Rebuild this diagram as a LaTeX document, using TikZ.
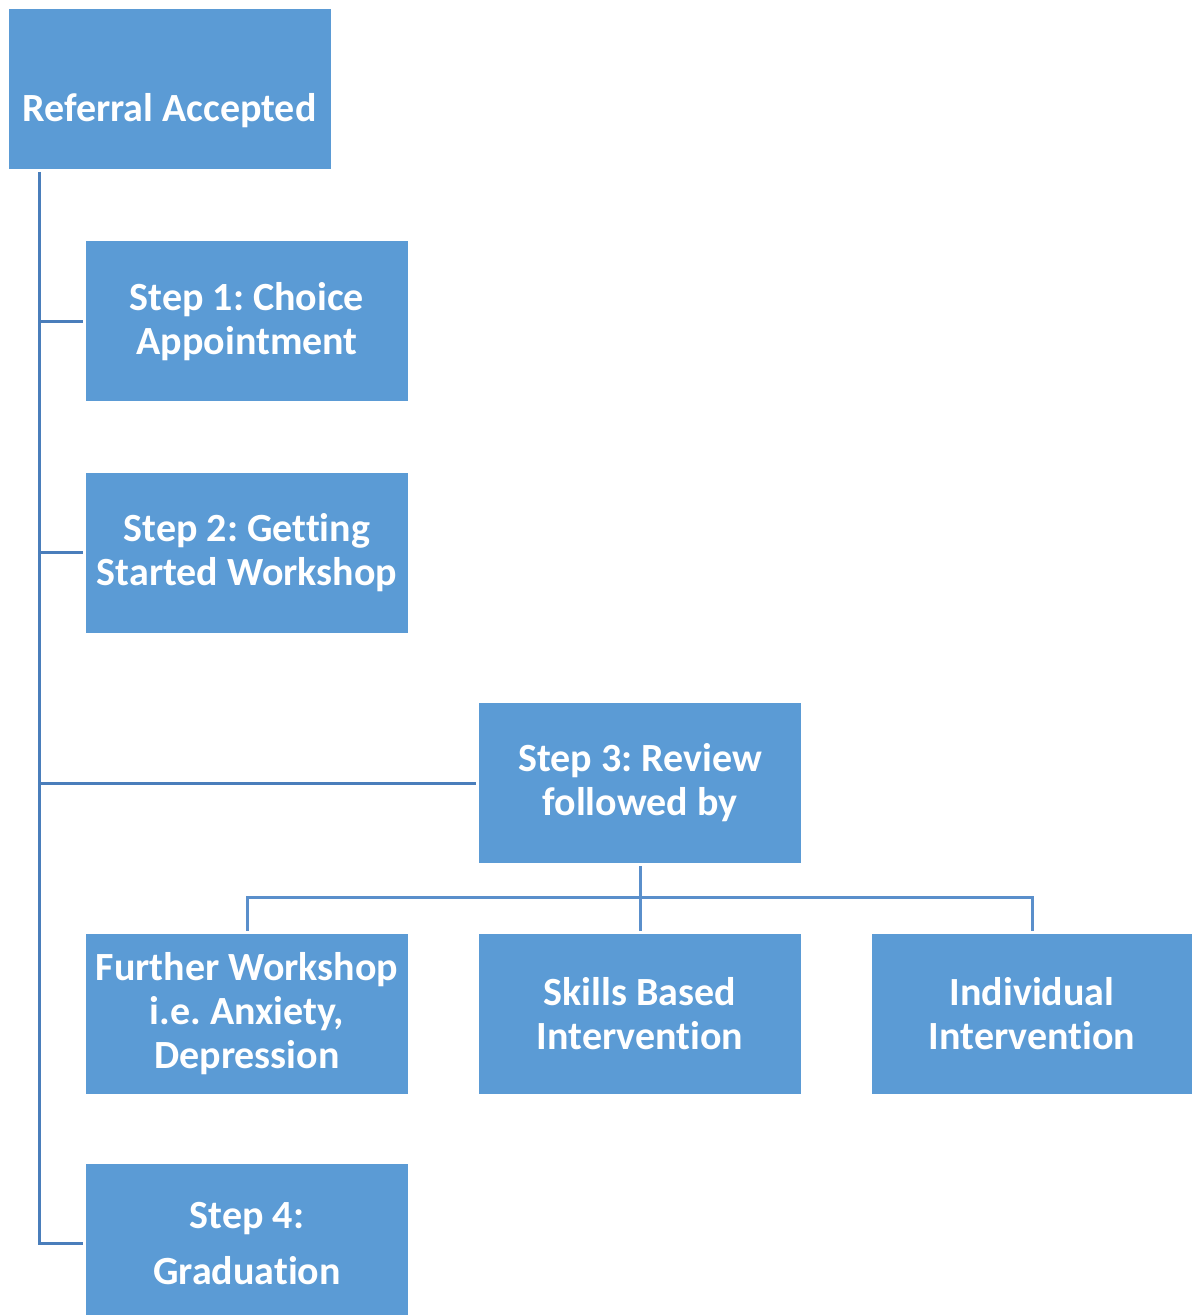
\documentclass[tikz,border=0pt]{standalone}
\usepackage{fontspec}
\setmainfont{Carlito}[Ligatures=NoCommon]
\usetikzlibrary{calc}
\definecolor{boxblue}{HTML}{5B9BD5}
\definecolor{trunkblue}{HTML}{4A7EBB}
\definecolor{treeblue}{HTML}{5A8FCB}
\tikzset{
  box/.style={draw=none, fill=boxblue, text=white, inner sep=0pt, outer sep=0pt,
    minimum width=161pt, minimum height=80pt, align=center,
    font=\fontsize{20pt}{22pt}\selectfont\bfseries\frenchspacing},
  label/.style={text=white, inner sep=0pt, font=\fontsize{20pt}{22pt}\selectfont\bfseries},
  trunk/.style={draw=trunkblue, line width=1.5pt},
  tree/.style={draw=treeblue, line width=1.5pt}
}
\begin{document}
\begin{tikzpicture}[x=0.5pt, y=-0.5pt]
\useasboundingbox (0,0) rectangle (1192,1315);
\clip (0,0) rectangle (1192,1315);
\node[box] (ref) at (169.5,89) {};
\node[label] (reftxt) at (169.5,111) {Referral Accepted};
\node[box] (s1) at (247,321.5) {Step 1: Choice\\Appointment};
\node[box] (s2) at (247,552.5) {Step 2: Getting\\Started Workshop};
\node[box] (s3) at (640,783) {Step 3: Review\\followed by};
\node[box] (fw) at (247,1013.5) {Further Workshop\\i.e. Anxiety,\\Depression};
\node[box] (sk) at (640,1013.5) {Skills Based\\Intervention};
\node[box, minimum width=160pt] (ind) at (1032,1013.5) {Individual\\Intervention};
\node[box, font=\fontsize{20pt}{28pt}\selectfont\bfseries] (s4) at (247,1244) {Step 4:\\Graduation};
% trunk
\coordinate (ttop) at (39,172);
\coordinate (tbot) at (39,1243);
\draw[trunk] (ttop) -- (tbot) -- ($(s4.west |- tbot)+(-3,0)$);
\draw[trunk] (ttop |- s1.west) -- ($(s1.west)+(-3,0)$);
\draw[trunk] (ttop |- s2.west) -- ($(s2.west)+(-3,0)$);
\draw[trunk] (ttop |- s3.west) -- ($(s3.west)+(-3,0)$);
% step 3 tree
\coordinate (hub) at (640,897);
\draw[tree] ($(s3.south)+(0,3)$) -- ($(sk.north)+(0,-3)$);
\draw[tree] ($(fw.north)+(0,-3)$) |- (hub) -| ($(ind.north)+(0,-3)$);
\end{tikzpicture}
\end{document}
